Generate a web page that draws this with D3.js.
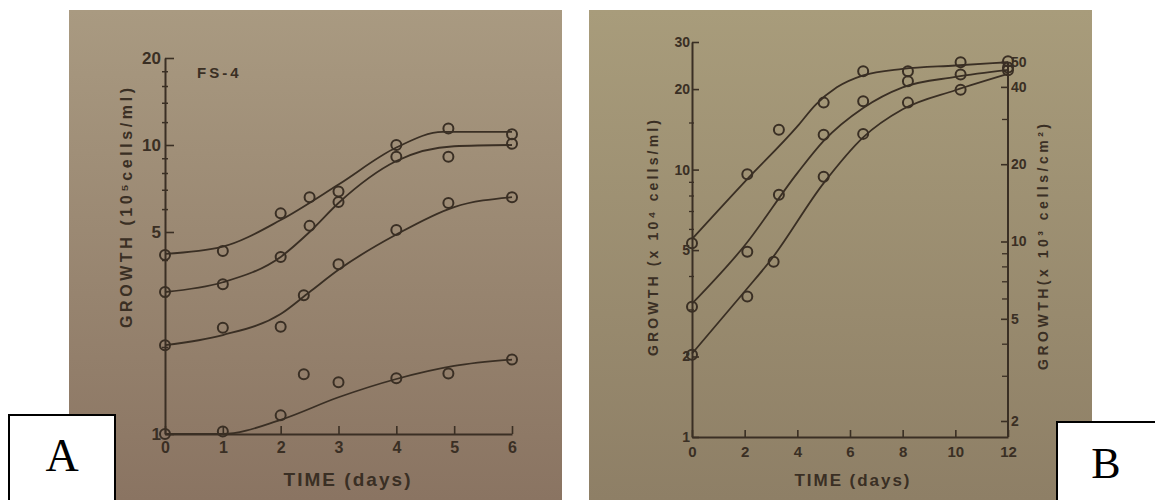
<!DOCTYPE html>
<html>
<head>
<meta charset="utf-8">
<script src="https://cdn.jsdelivr.net/npm/d3@7"></script>
<style>
  body { margin: 0; background: #fff; }
  svg { display: block; }
  .tick text { font-family: "Liberation Sans", Arial, sans-serif; font-weight: bold; }
</style>
</head>
<body>
<svg id="chart" width="1155" height="500"></svg>
<script>
// ---- panel A data (FS-4) ----
const aDays1 = [0, 1, 2, 2.5, 3, 4, 4.9, 6];
const aVals1 = [4.16, 4.3, 5.8, 6.6, 6.9, 10.0, 11.4, 10.9];
const aDays2 = [0, 1, 2, 2.5, 3, 4, 4.9, 6];
const aVals2 = [3.1, 3.3, 4.1, 5.25, 6.35, 9.1, 9.1, 10.1];
const aDays3 = [0, 1, 2, 2.4, 3, 4, 4.9, 6];
const aVals3 = [2.03, 2.33, 2.35, 3.02, 3.87, 5.08, 6.3, 6.6];
const aDays4 = [0, 1, 2, 2.4, 3, 4, 4.9, 6];
const aVals4 = [1.0, 1.02, 1.16, 1.61, 1.51, 1.56, 1.62, 1.81];

// fitted curves of panel A
const aCurveDays1 = [0, 1, 2, 3, 4, 4.8, 6];
const aCurveVals1 = [4.2, 4.45, 5.5, 7.3, 9.8, 11.1, 11.1];
const aCurveDays2 = [0, 1, 2, 2.5, 3, 4, 5, 6];
const aCurveVals2 = [3.1, 3.35, 4.1, 5.0, 6.3, 8.8, 9.9, 10.0];
const aCurveDays3 = [0, 1, 2, 2.5, 3, 4, 5, 6];
const aCurveVals3 = [2.03, 2.2, 2.6, 3.1, 3.7, 4.9, 6.1, 6.6];
const aCurveDays4 = [0, 1, 2, 3, 4, 5, 6];
const aCurveVals4 = [1, 1, 1.12, 1.34, 1.55, 1.72, 1.81];

const aXTicks = [0, 1, 2, 3, 4, 5, 6];
const aYTicks = [1, 5, 10, 20];
const aYMinor = [2, 3, 4, 6, 7, 8, 9, 12, 14, 16, 18];

// ---- panel B data ----
const bDays1 = [0, 2.1, 3.3, 5, 6.5, 8.2, 10.2, 12];
const bVals1 = [5.3, 9.6, 14.1, 17.8, 23.3, 23.3, 25.2, 25.4];
const bDays2 = [0, 2.1, 3.3, 5, 6.5, 8.2, 10.2, 12];
const bVals2 = [3.07, 4.93, 8.06, 13.5, 18.0, 21.4, 22.7, 24.1];
const bDays3 = [0, 2.1, 3.1, 5, 6.5, 8.2, 10.2, 12];
const bVals3 = [2.03, 3.35, 4.52, 9.4, 13.6, 17.8, 19.9, 23.5];

const bCurveDays1 = [0, 2, 4, 4.7, 5.5, 6.5, 8, 10, 12];
const bCurveVals1 = [5.5, 9.0, 14.5, 17.5, 20.3, 22.5, 23.8, 24.5, 25.2];
const bCurveDays2 = [0, 2, 4, 5, 6.5, 8, 10, 12];
const bCurveVals2 = [3.15, 5.2, 9.7, 12.8, 17, 20.3, 22.2, 23.6];
const bCurveDays3 = [0, 2, 3, 5, 6.5, 8, 10, 12];
const bCurveVals3 = [2.05, 3.5, 4.6, 8.9, 13.2, 16.8, 19.8, 22.8];

const bXTicks = [0, 2, 4, 6, 8, 10, 12];
const bLeftTicks = [1, 2, 5, 10, 20, 30];
const bLeftMinor = [3, 4, 6, 7, 8, 9, 15];
const bRightTicks = [2, 5, 10, 20, 40, 50];
const bRightMinor = [3, 4, 6, 7, 8, 9, 30];

const ink = "#3a2f24";
const svg = d3.select("#chart");

// photo backgrounds
const defs = svg.append("defs");
function gradient(id, top, bottom) {
  const g = defs.append("linearGradient").attr("id", id)
    .attr("x1", 0).attr("y1", 0).attr("x2", 0).attr("y2", 1);
  g.append("stop").attr("offset", "0%").attr("stop-color", top);
  g.append("stop").attr("offset", "100%").attr("stop-color", bottom);
}
gradient("bgA", "#a99a81", "#8a7462");
gradient("bgB", "#a89c7b", "#8e7f66");
svg.append("rect").attr("x", 69).attr("y", 10).attr("width", 493).attr("height", 490).attr("fill", "url(#bgA)");
svg.append("rect").attr("x", 589).attr("y", 10).attr("width", 503).attr("height", 490).attr("fill", "url(#bgB)");

const zip = (xs, ys) => xs.map((d, i) => [d, ys[i]]);

function drawSeries(g, x, y, days, vals, cDays, cVals) {
  const line = d3.line().x(d => x(d[0])).y(d => y(d[1])).curve(d3.curveMonotoneX);
  g.append("path").datum(zip(cDays, cVals))
    .attr("d", line).attr("fill", "none").attr("stroke", ink).attr("stroke-width", 1.8);
  g.selectAll(null).data(zip(days, vals)).join("circle")
    .attr("cx", d => x(d[0])).attr("cy", d => y(d[1])).attr("r", 5)
    .attr("fill", "none").attr("stroke", ink).attr("stroke-width", 2);
}

function styleAxis(g, size) {
  g.select(".domain").attr("stroke", ink).attr("stroke-width", 2);
  g.selectAll(".tick line").attr("stroke", ink).attr("stroke-width", 1.6);
  g.selectAll(".tick text").attr("fill", ink).style("font-size", size + "px");
}

// ================= panel A =================
const xA = d3.scaleLinear().domain([0, 6]).range([165, 512]);
const yA = d3.scaleLog().domain([1, 20]).range([434, 58]);
const gA = svg.append("g");

gA.append("g").attr("transform", "translate(0,434)")
  .call(d3.axisBottom(xA).tickValues(aXTicks).tickFormat(d3.format("d")).tickSizeInner(-8).tickSizeOuter(0).tickPadding(8))
  .call(g => styleAxis(g, 16));
gA.append("g").attr("transform", "translate(165,0)")
  .call(d3.axisLeft(yA).tickValues(aYTicks).tickFormat(d3.format("d")).tickSizeInner(-9).tickSizeOuter(0).tickPadding(4))
  .call(g => styleAxis(g, 17));
gA.append("g").attr("transform", "translate(162,0)")
  .call(d3.axisRight(yA).tickValues(aYMinor).tickFormat("").tickSize(6))
  .call(g => { g.select(".domain").remove(); g.selectAll(".tick line").attr("stroke", ink).attr("stroke-width", 1.5); });

drawSeries(gA, xA, yA, aDays1, aVals1, aCurveDays1, aCurveVals1);
drawSeries(gA, xA, yA, aDays2, aVals2, aCurveDays2, aCurveVals2);
drawSeries(gA, xA, yA, aDays3, aVals3, aCurveDays3, aCurveVals3);
drawSeries(gA, xA, yA, aDays4, aVals4, aCurveDays4, aCurveVals4);

gA.append("text").attr("x", 197).attr("y", 78).attr("fill", ink)
  .style("font", "bold 15px 'Liberation Sans', Arial, sans-serif").attr("letter-spacing", 3).text("FS-4");
gA.append("text").attr("transform", "translate(132,208) rotate(-90)").attr("text-anchor", "middle")
  .attr("fill", ink).attr("textLength", 240).attr("lengthAdjust", "spacing")
  .style("font", "bold 16px 'Liberation Sans', Arial, sans-serif").text("GROWTH  (10⁵cells/ml)");
gA.append("text").attr("x", 347).attr("y", 486).attr("text-anchor", "middle")
  .attr("fill", ink).attr("textLength", 127).attr("lengthAdjust", "spacing")
  .style("font", "bold 19px 'Liberation Sans', Arial, sans-serif").text("TIME (days)");

// ================= panel B =================
const xB = d3.scaleLinear().domain([0, 12]).range([692, 1008]);
const yBL = d3.scaleLog().domain([1, 30]).range([437, 42]);
const yBR = d3.scaleLog().domain([2, 50]).range([421, 62]);
const gB = svg.append("g");

gB.append("g").attr("transform", "translate(0,437)")
  .call(d3.axisBottom(xB).tickValues(bXTicks).tickFormat(d3.format("d")).tickSizeInner(-7).tickSizeOuter(0).tickPadding(9))
  .call(g => styleAxis(g, 15));
gB.append("g").attr("transform", "translate(692,0)")
  .call(d3.axisLeft(yBL).tickValues(bLeftTicks).tickFormat(d3.format("d")).tickSizeInner(-7).tickSizeOuter(0).tickPadding(2))
  .call(g => styleAxis(g, 14));
gB.append("g").attr("transform", "translate(689,0)")
  .call(d3.axisRight(yBL).tickValues(bLeftMinor).tickFormat("").tickSize(5))
  .call(g => { g.select(".domain").remove(); g.selectAll(".tick line").attr("stroke", ink).attr("stroke-width", 1.3); });
gB.append("g").attr("transform", "translate(1008,0)")
  .call(d3.axisRight(yBR).tickValues(bRightTicks).tickFormat(d3.format("d")).tickSizeInner(-7).tickSizeOuter(0).tickPadding(3))
  .call(g => styleAxis(g, 14))
  .call(g => g.select(".domain").attr("d", `M0,437V${yBR(50)}`));
gB.append("g").attr("transform", "translate(1002,0)")
  .call(d3.axisRight(yBR).tickValues(bRightMinor).tickFormat("").tickSize(6))
  .call(g => { g.select(".domain").remove(); g.selectAll(".tick line").attr("stroke", ink).attr("stroke-width", 1.3); });

drawSeries(gB, xB, yBL, bDays1, bVals1, bCurveDays1, bCurveVals1);
drawSeries(gB, xB, yBL, bDays2, bVals2, bCurveDays2, bCurveVals2);
drawSeries(gB, xB, yBL, bDays3, bVals3, bCurveDays3, bCurveVals3);

gB.append("text").attr("transform", "translate(658,238) rotate(-90)").attr("text-anchor", "middle")
  .attr("fill", ink).attr("textLength", 236).attr("lengthAdjust", "spacing")
  .style("font", "bold 14px 'Liberation Sans', Arial, sans-serif").text("GROWTH (x 10⁴ cells/ml)");
gB.append("text").attr("transform", "translate(1048,247) rotate(-90)").attr("text-anchor", "middle")
  .attr("fill", ink).attr("textLength", 246).attr("lengthAdjust", "spacing")
  .style("font", "bold 14px 'Liberation Sans', Arial, sans-serif").text("GROWTH(x 10³ cells/cm²)");
gB.append("text").attr("x", 852).attr("y", 486).attr("text-anchor", "middle")
  .attr("fill", ink).attr("textLength", 115).attr("lengthAdjust", "spacing")
  .style("font", "bold 17px 'Liberation Sans', Arial, sans-serif").text("TIME (days)");

// ---- panel letters ----
svg.append("rect").attr("x", 9).attr("y", 415).attr("width", 106).attr("height", 90)
  .attr("fill", "#fff").attr("stroke", "#000").attr("stroke-width", 2);
svg.append("text").attr("x", 62).attr("y", 471).attr("text-anchor", "middle")
  .style("font", "46px 'Liberation Serif', 'Times New Roman', serif").text("A");
svg.append("rect").attr("x", 1057).attr("y", 422).attr("width", 105).attr("height", 90)
  .attr("fill", "#fff").attr("stroke", "#000").attr("stroke-width", 2);
svg.append("text").attr("x", 1106).attr("y", 478).attr("text-anchor", "middle")
  .style("font", "44px 'Liberation Serif', 'Times New Roman', serif").text("B");
</script>
</body>
</html>
